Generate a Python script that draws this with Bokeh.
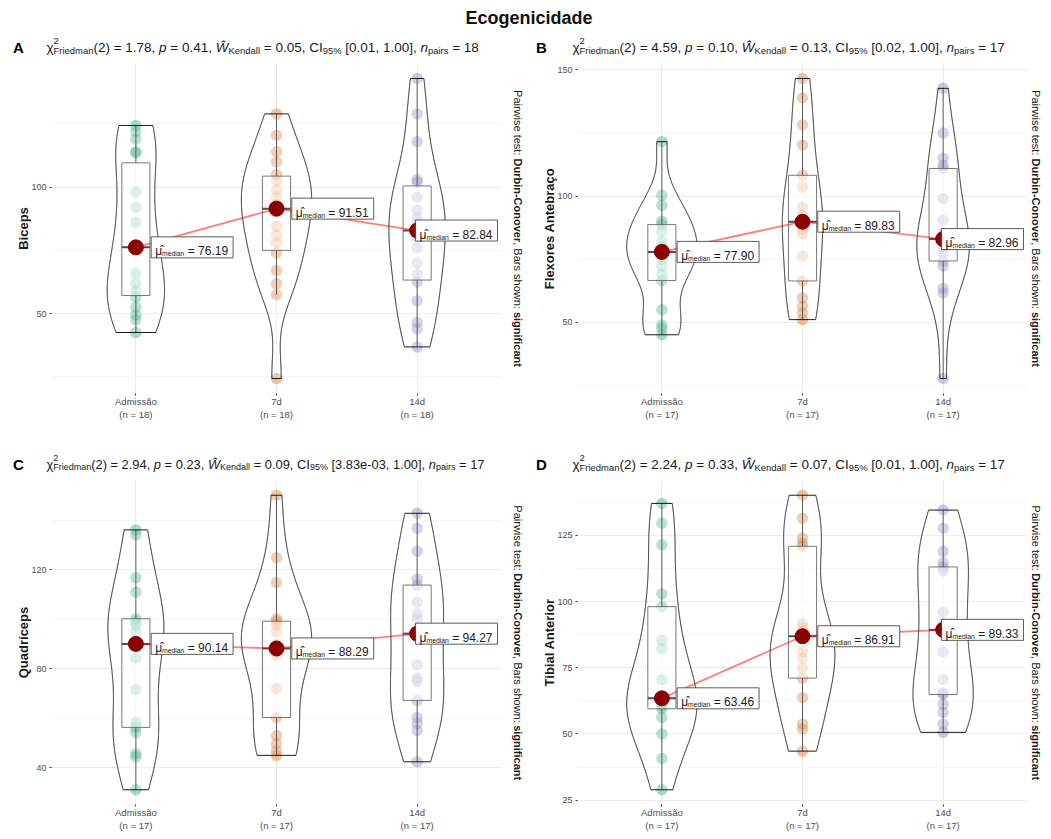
import numpy as np
from bokeh.plotting import figure
from bokeh.models import Label, Div, FixedTicker, Range1d, Spacer
from bokeh.layouts import row, column
from bokeh.embed import file_html
from bokeh.resources import INLINE
from bokeh.core.properties import value

FONT = "Liberation Sans"
NB = "\u00a0"

# ------------------------------------------------------------------ data
chart_title = "Ecogenicidade"
conditions = ["Admissão", "7d", "14d"]
palette = ["#1B9E77", "#D95F02", "#7570B3"]
panel_letters = ["A", "B", "C", "D"]
muscles = ["Biceps", "Flexores Antebraço", "Quadríceps", "Tibial Anterior"]

biceps_admissao = [42.5, 47.5, 49.5, 52.5, 56.5, 59.0, 62.0, 66.0, 76.0, 76.38, 86.0, 92.0, 98.0, 113.5, 114.0, 119.0, 122.0, 124.4]
biceps_7d = [24.3, 57.5, 61.8, 67.0, 74.0, 78.0, 81.0, 84.5, 90.0, 93.02, 96.0, 99.0, 102.5, 105.0, 110.0, 114.0, 120.5, 129.0]
biceps_14d = [36.8, 44.0, 46.5, 55.0, 62.5, 65.5, 70.0, 76.0, 80.0, 85.68, 88.0, 91.0, 96.0, 102.0, 103.0, 118.0, 129.0, 143.0]

flexores_admissao = [45.1, 47.5, 49.0, 55.0, 66.6, 69.0, 72.3, 75.0, 77.9, 80.0, 82.0, 86.0, 88.7, 90.0, 96.3, 100.3, 121.5]
flexores_7d = [51.1, 53.7, 56.4, 59.7, 66.4, 76.3, 85.0, 87.0, 89.83, 92.3, 95.6, 103.6, 108.2, 120.2, 128.2, 138.8, 146.5]
flexores_14d = [27.8, 61.7, 63.5, 72.3, 74.3, 77.7, 80.0, 82.0, 82.96, 85.6, 90.4, 98.9, 110.9, 112.2, 114.9, 124.9, 142.6]

quadriceps_admissao = [31.2, 44.5, 45.8, 54.4, 56.4, 58.4, 71.7, 84.4, 90.14, 95.0, 97.5, 99.0, 100.3, 111.0, 116.9, 134.2, 136.2]
quadriceps_7d = [45.1, 47.0, 49.8, 53.1, 60.4, 72.0, 85.7, 87.0, 88.29, 90.0, 95.0, 97.7, 99.3, 100.3, 114.9, 124.9, 150.2]
quadriceps_14d = [42.5, 55.1, 58.0, 60.4, 67.3, 75.0, 76.4, 81.7, 94.27, 100.0, 102.3, 107.0, 113.9, 116.3, 127.6, 136.9, 142.9]

tibial_admissao = [28.9, 40.7, 50.0, 56.2, 59.5, 60.5, 61.5, 62.5, 63.46, 70.5, 82.3, 85.4, 98.1, 102.9, 121.5, 129.6, 137.1]
tibial_7d = [43.5, 51.9, 53.7, 63.7, 71.1, 74.9, 78.6, 81.1, 86.91, 88.6, 90.0, 91.7, 120.9, 122.1, 124.0, 131.5, 140.2]
tibial_14d = [50.6, 53.7, 58.1, 61.2, 64.9, 65.5, 70.5, 81.1, 89.33, 92.0, 96.0, 111.6, 113.1, 114.7, 119.0, 127.7, 134.6]

y_major_ticks = [[50, 100], [50, 100, 150], [40, 80, 120], [25, 50, 75, 100, 125]]
y_minor_ticks = [[25, 75, 125], [25, 75, 125], [20, 60, 100, 140], [37.5, 62.5, 87.5, 112.5, 137.5]]

friedman_chi2 = ["1.78", "4.59", "2.94", "2.24"]
p_values = ["0.41", "0.10", "0.23", "0.33"]
kendall_w = ["0.05", "0.13", "0.09", "0.07"]
ci_low = ["0.01", "0.02", "3.83e-03", "0.01"]
ci_high = ["1.00", "1.00", "1.00", "1.00"]
caption_parts = [("Pairwise test: ", False), ("Durbin-Conover", True), (", Bars shown: ", False), ("significant", True)]

series_all = [
    [biceps_admissao, biceps_7d, biceps_14d],
    [flexores_admissao, flexores_7d, flexores_14d],
    [quadriceps_admissao, quadriceps_7d, quadriceps_14d],
    [tibial_admissao, tibial_7d, tibial_14d],
]

# ------------------------------------------------------------------ text metrics (Arial / Liberation Sans)
W_REG = {' ': 278, NB: 278, '!': 278, '%': 889, '(': 333, ')': 333, ',': 278, '-': 333, '.': 278, ':': 278,
         '=': 584, '[': 278, ']': 278, 'χ': 520, 'μ': 576, 'Ŵ': 944, '\u0302': 0, 'ç': 500, 'ã': 556, 'í': 278}
for c in "0123456789":
    W_REG[c] = 556
W_REG.update(dict(zip("abcdefghijklmnopqrstuvwxyz",
                      [556, 556, 500, 556, 556, 278, 556, 556, 222, 222, 500, 222, 833, 556, 556, 556, 556, 333, 500, 278, 556, 500, 722, 500, 500, 500])))
W_REG.update(dict(zip("ABCDEFGHIJKLMNOPQRSTUVWXYZ",
                      [667, 667, 722, 722, 667, 611, 778, 722, 278, 500, 667, 556, 833, 722, 778, 667, 778, 722, 667, 611, 722, 667, 944, 667, 667, 611])))
W_BOLD = dict(W_REG)
W_BOLD.update(dict(zip("abcdefghijklmnopqrstuvwxyz",
                       [556, 611, 556, 611, 556, 333, 611, 611, 278, 278, 556, 278, 889, 611, 611, 611, 611, 389, 556, 333, 611, 556, 778, 556, 556, 500])))
W_BOLD.update({':': 333, 'B': 722})


def tw(s, size, bold=False):
    t = W_BOLD if bold else W_REG
    return sum(t.get(c, 556) for c in s) * size / 1000.0


def edge_nb(s):
    core = s.strip(" ")
    lead = len(s) - len(s.lstrip(" "))
    trail = len(s) - len(s.rstrip(" "))
    return NB * lead + core + NB * trail


def add_label(p, x, y, text, size, style="normal", color="#1a1a1a", align="left", baseline="middle", angle=0.0):
    p.add_layout(Label(x=x, y=y, text=edge_nb(text), angle=angle,
                       text_font=FONT, text_font_size=f"{size:.2f}px", text_font_style=style,
                       text_color=color, text_align=align, text_baseline=baseline))


def blank_fig(w, h, bottom=0, yspan=None):
    f = figure(width=w, height=h, x_range=Range1d(0, w), y_range=Range1d(0, yspan if yspan else h),
               x_axis_type=None, y_axis_type=None, output_backend="svg", toolbar_location=None,
               title=None, min_border=0, min_border_left=0, min_border_right=0,
               min_border_top=0, min_border_bottom=bottom)
    f.outline_line_color = None
    f.background_fill_color = "white"
    f.border_fill_color = "white"
    return f


def header_fig(k, npairs, w, h, letter_x, text_x, mid_y, target_w):
    f = blank_fig(w, h)
    add_label(f, letter_x, mid_y, panel_letters[k], 15, "bold", color="#000000", align="center")
    segs = [("χ", "m", "normal", 0, True), ("2", "s", "normal", 6.0, False), ("Friedman", "s", "normal", -3.0, True),
            (f"(2) = {friedman_chi2[k]}, ", "m", "normal", 0, True), ("p", "m", "italic", 0, True),
            (f" = {p_values[k]}, ", "m", "normal", 0, True), ("Ŵ", "m", "italic", 0, True),
            ("Kendall", "s", "normal", -3.0, True), (f" = {kendall_w[k]}, CI", "m", "normal", 0, True),
            ("95%", "s", "normal", -3.0, True), (f" [{ci_low[k]}, {ci_high[k]}], ", "m", "normal", 0, True),
            ("n", "m", "italic", 0, True), ("pairs", "s", "normal", -3.0, True), (f" = {npairs}", "m", "normal", 0, True)]
    units = sum(tw(t, 1.0) * (1 if kind == "m" else 0.7) for t, kind, _, _, adv in segs if adv)
    fs = min(13.5, target_w / units)
    cur = 0.0
    for t, kind, style, rise, adv in segs:
        size = fs if kind == "m" else 0.7 * fs
        add_label(f, text_x + cur, mid_y + rise * fs / 13.0, t, size, style)
        if adv:
            cur += tw(t, size)
    return f


def caption_fig(w, fh, bottom, cx):
    f = blank_fig(w, fh + bottom, bottom=bottom, yspan=fh)
    fc = 11.0
    total = sum(tw(t, fc, b) for t, b in caption_parts)
    cur = fh / 2 + total / 2
    for t, b in caption_parts:
        add_label(f, cx, cur, t, fc, "bold" if b else "normal", baseline="middle", angle=-np.pi / 2)
        cur -= tw(t, fc, b)
    return f


# ------------------------------------------------------------------ panel builder
def make_panel(k, left, bottom, fw, fh):
    series = [np.asarray(s, float) for s in series_all[k]]
    allv = np.concatenate(series)
    lo, hi = allv.min(), allv.max()
    pad = 0.05 * (hi - lo)
    p = figure(width=left + fw, height=fh + bottom, x_range=Range1d(0.4, 3.6), y_range=Range1d(lo - pad, hi + pad),
               output_backend="svg", toolbar_location=None, title=None,
               min_border_left=left, min_border_right=0, min_border_top=0, min_border_bottom=bottom)
    p.outline_line_color = None
    p.background_fill_color = "white"
    p.border_fill_color = "white"

    p.xaxis.ticker = FixedTicker(ticks=[1, 2, 3])
    p.xaxis.major_label_overrides = {i + 1: f"{conditions[i]}\n(n = {len(series[i])})" for i in range(3)}
    p.yaxis.ticker = FixedTicker(ticks=y_major_ticks[k], minor_ticks=y_minor_ticks[k])
    for ax in (p.xaxis[0], p.yaxis[0]):
        ax.axis_line_color = None
        ax.major_tick_out = 2
        ax.major_tick_in = 0
        ax.minor_tick_out = 0
        ax.minor_tick_in = 0
        ax.major_tick_line_color = "#333333"
        ax.major_label_text_font = FONT
        ax.major_label_text_color = "#4D4D4D"
    p.xaxis.major_label_standoff = 0
    p.yaxis.major_label_standoff = 3
    p.xaxis.major_label_text_font_size = "9.5px"
    p.yaxis.major_label_text_font_size = "9px"
    p.yaxis.axis_label = muscles[k]
    p.yaxis.axis_label_text_font = FONT
    p.yaxis.axis_label_text_font_style = "bold"
    p.yaxis.axis_label_text_font_size = "13px"
    p.yaxis.axis_label_text_color = "#1a1a1a"
    p.yaxis.axis_label_standoff = -3
    p.xgrid.ticker = FixedTicker(ticks=[1, 2, 3])
    p.xgrid.grid_line_color = "#EBEBEB"
    p.ygrid.grid_line_color = "#EBEBEB"
    p.ygrid.minor_grid_line_color = "#F4F4F4"

    for i, s in enumerate(series):
        p.scatter(x=np.full(len(s), i + 1.0), y=s, size=11.5, fill_color=palette[i], fill_alpha=0.38, line_color=None)

    meds = []
    for i, s in enumerate(series):
        xc = i + 1
        q1, med, q3 = np.percentile(s, [25, 50, 75])
        iqr = q3 - q1
        upper = s[s <= q3 + 1.5 * iqr].max()
        lower = s[s >= q1 - 1.5 * iqr].min()
        meds.append(med)
        p.segment(x0=[xc, xc], y0=[q3, lower], x1=[xc, xc], y1=[upper, q1], line_color="#333333", line_width=1)
        p.quad(left=[xc - 0.1], right=[xc + 0.1], bottom=[q1], top=[q3], fill_color="white", fill_alpha=0.5,
               line_color="#444444", line_width=0.9)
        p.segment(x0=[xc - 0.1], y0=[med], x1=[xc + 0.1], y1=[med], line_color="#222222", line_width=2)

    dens = []
    for s in series:
        g = np.linspace(s.min(), s.max(), 512)
        q75, q25 = np.percentile(s, [75, 25])
        bw = 0.9 * min(s.std(ddof=1), (q75 - q25) / 1.34) * len(s) ** -0.2
        d = np.exp(-0.5 * ((g[:, None] - s[None, :]) / bw) ** 2).sum(1) / (len(s) * bw * np.sqrt(2 * np.pi))
        dens.append((g, d))
    dmax = max(d.max() for g, d in dens)
    for i, (g, d) in enumerate(dens):
        xc = i + 1
        half = 0.25 * d / dmax
        p.patch(np.concatenate([xc - half, (xc + half)[::-1]]), np.concatenate([g, g[::-1]]),
                fill_color="white", fill_alpha=0.2, line_color="#1a1a1a", line_width=1)

    xs = [1, 2, 3]
    p.line(xs, meds, line_color="red", line_alpha=0.5, line_width=1.8)
    p.scatter(xs, meds, size=15, fill_color="#8B0000", line_color="#8B0000")

    f_main, f_sub, padx = 12.0, 6.8, 4.0
    px_per_unit = fw / 3.2
    for i, m in enumerate(meds):
        num = f" = {m:.2f}"
        wmu, wsub, wnum = tw("μ", f_main), tw("median", f_sub), tw(num, f_main)
        bwid = padx + wmu + wsub + wnum + padx + 1
        cx = min(i + 1 + 0.4, 3.6 - (bwid / 2 + 4) / px_per_unit)
        p.rect(x=[cx], y=[m], width=bwid, height=21, width_units="screen", height_units="screen",
               fill_color="white", line_color="#333333", line_width=0.8)
        x_start = -bwid / 2 + padx
        for txt, fsz, xo, yo in (("μ\u0302", f_main, x_start, 4.0), ("median", f_sub, x_start + wmu, 6.5),
                                 (edge_nb(num), f_main, x_start + wmu + wsub, 4.0)):
            p.text(x=[cx], y=[m], text=[txt], x_offset=[xo], y_offset=[yo],
                   text_font=value(FONT), text_font_size=f"{fsz}px", text_baseline="alphabetic",
                   text_align="left", text_color="#1a1a1a")
    return p


FW = 450
rows_geom = [dict(hh=33, fh=330, bottom=49, mid=16.0), dict(hh=38, fh=327, bottom=26, mid=16.5)]
cols_geom = [dict(left=44, capw=23, capx=16, letter_x=11, text_x=39),
             dict(left=53, capw=14, capx=8, letter_x=17, text_x=48)]

blocks = [Div(text=chart_title, width=1034, height=20,
              styles={"text-align": "center", "font-weight": "bold", "font-size": "18px",
                      "font-family": "'Liberation Sans', Arial, sans-serif", "line-height": "27px",
                      "color": "#111111", "width": "1034px"})]
for r, rg in enumerate(rows_geom):
    heads, panels = [], []
    for c, cg in enumerate(cols_geom):
        k = 2 * r + c
        npairs = min(len(s) for s in series_all[k])
        w_total = cg["left"] + FW + cg["capw"]
        heads.append(header_fig(k, npairs, w_total, rg["hh"], cg["letter_x"], cg["text_x"], rg["mid"], 438))
        panels.append(make_panel(k, cg["left"], rg["bottom"], FW, rg["fh"]))
        panels.append(caption_fig(cg["capw"], rg["fh"], rg["bottom"], cg["capx"]))
    blocks.append(row(*heads))
    blocks.append(row(*panels))

layout = row(Spacer(width=7, height=10), column(*blocks))
open("out.html", "w").write(file_html(layout, INLINE, title=chart_title))
